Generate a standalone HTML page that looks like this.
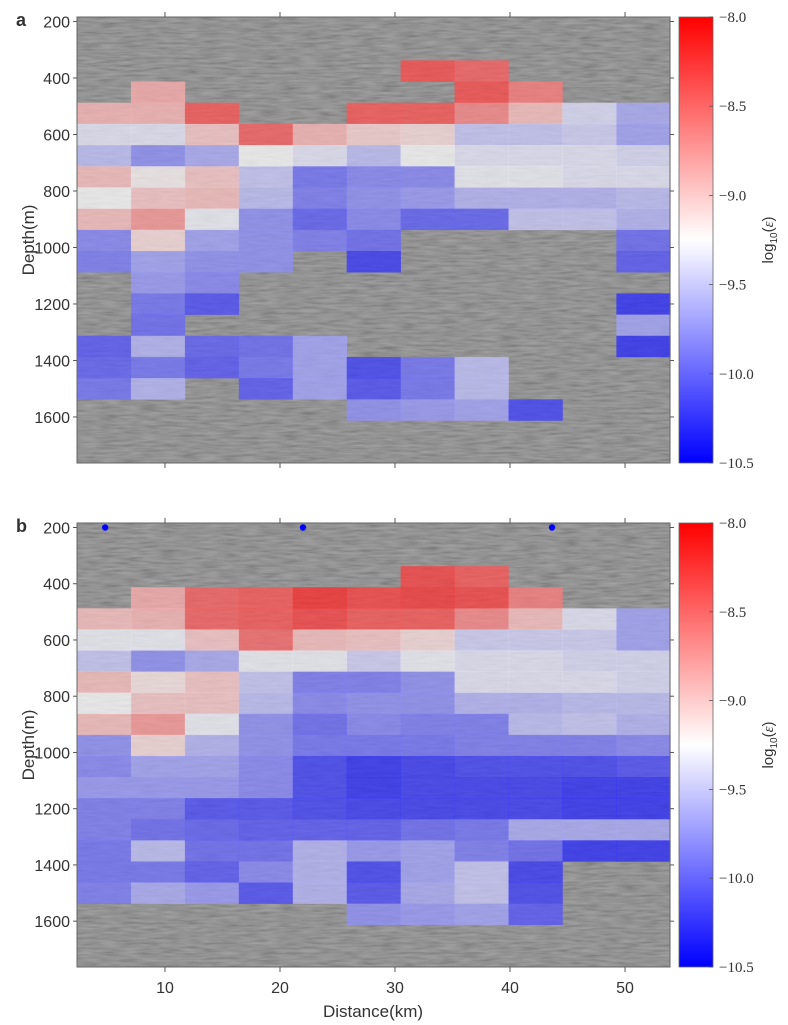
<!DOCTYPE html>
<html><head><meta charset="utf-8"><style>
html,body{margin:0;padding:0;background:#fff;width:788px;height:1025px;overflow:hidden}
svg{display:block}
text{font-family:"Liberation Sans",Arial,sans-serif;fill:#333}
.cb{font-family:"Liberation Serif",serif;font-size:15px;fill:#333}
</style></head><body>
<svg id="fig" width="788" height="1025" viewBox="0 0 788 1025" xmlns="http://www.w3.org/2000/svg">
<defs>
<filter id="seis" x="0" y="0" width="100%" height="100%">
<feTurbulence type="fractalNoise" baseFrequency="0.05 0.4" numOctaves="2" seed="4"/>
<feColorMatrix type="matrix" values="1 0 0 0 0  1 0 0 0 0  1 0 0 0 0  0 0 0 0 1"/>
</filter>
<linearGradient id="cmap" x1="0" y1="1" x2="0" y2="0">
<stop offset="0" stop-color="#0000ff"/><stop offset="0.5" stop-color="#ffffff"/><stop offset="1" stop-color="#ff0000"/>
</linearGradient>
</defs>
</svg>
<script>
// ---- data ----
const xTicks = [10, 20, 30, 40, 50];
const yTicks = [200, 400, 600, 800, 1000, 1200, 1400, 1600];
const cbTicks = [-8.0, -8.5, -9.0, -9.5, -10.0, -10.5];
const cbTickLabels = ["\u22128.0", "\u22128.5", "\u22129.0", "\u22129.5", "\u221210.0", "\u221210.5"];
const colStartKm = 2.35, colWidthKm = 4.69;
const rowStartM = 337.5, rowHeightM = 75;
const stationKm = [4.8, 22.0, 43.65];
const stationDepth = [200, 200, 200];
const N = null;
const gridA = [
[N,N,N,N,N,N,-8.35,-8.45,N,N,N],
[N,-8.85,N,N,N,N,N,-8.35,-8.6,N,N],
[-8.9,-8.9,-8.4,N,N,-8.4,-8.4,-8.65,-8.95,-9.4,-9.65],
[-9.35,-9.35,-9.0,-8.45,-8.9,-9.05,-9.1,-9.5,-9.5,-9.45,-9.7],
[-9.55,-9.8,-9.65,-9.25,-9.35,-9.55,-9.25,-9.35,-9.35,-9.35,-9.4],
[-8.95,-9.2,-9.0,-9.5,-9.95,-9.85,-9.85,-9.3,-9.3,-9.35,-9.35],
[-9.25,-9.0,-8.95,-9.55,-9.9,-9.8,-9.75,-9.6,-9.6,-9.6,-9.55],
[-8.95,-8.75,-9.3,-9.8,-10.05,-9.85,-10.05,-10.05,-9.5,-9.5,-9.6],
[-9.85,-9.1,-9.7,-9.8,-9.9,-10.0,N,N,N,N,-10.0],
[-9.9,-9.7,-9.8,-9.8,N,-10.25,N,N,N,N,-10.1],
[N,-9.75,-9.85,N,N,N,N,N,N,N,N],
[N,-9.95,-10.15,N,N,N,N,N,N,N,-10.3],
[N,-10.0,N,N,N,N,N,N,N,N,-9.7],
[-10.1,-9.6,-10.05,-10.0,-9.7,N,N,N,N,N,-10.3],
[-10.05,-9.95,-10.1,-9.95,-9.7,-10.2,-9.95,-9.55,N,N,N],
[-9.95,-9.6,N,-10.1,-9.7,-10.15,-9.95,-9.55,N,N,N],
[N,N,N,N,N,-9.8,-9.75,-9.7,-10.2,N,N]
];
const gridB = [
[N,N,N,N,N,N,-8.3,-8.4,N,N,N],
[N,-8.85,-8.45,-8.4,-8.2,-8.3,-8.25,-8.3,-8.6,N,N],
[-8.95,-8.9,-8.45,-8.4,-8.3,-8.4,-8.4,-8.65,-8.95,-9.35,-9.7],
[-9.3,-9.3,-9.0,-8.5,-8.95,-9.0,-9.1,-9.45,-9.45,-9.45,-9.7],
[-9.5,-9.8,-9.65,-9.3,-9.3,-9.45,-9.3,-9.35,-9.35,-9.4,-9.4],
[-8.95,-9.15,-9.0,-9.5,-9.9,-9.9,-9.8,-9.35,-9.35,-9.35,-9.4],
[-9.25,-9.0,-9.0,-9.55,-9.85,-9.8,-9.8,-9.6,-9.6,-9.55,-9.55],
[-8.95,-8.75,-9.3,-9.8,-10.0,-9.85,-9.9,-9.9,-9.55,-9.5,-9.6],
[-9.8,-9.1,-9.6,-9.8,-9.95,-9.95,-9.95,-9.9,-9.9,-9.9,-9.85],
[-9.85,-9.7,-9.7,-9.85,-10.2,-10.3,-10.25,-10.2,-10.2,-10.2,-10.15],
[-9.75,-9.75,-9.75,-9.85,-10.2,-10.3,-10.25,-10.25,-10.25,-10.3,-10.3],
[-9.9,-9.9,-10.15,-10.15,-10.2,-10.25,-10.25,-10.25,-10.25,-10.3,-10.3],
[-9.9,-10.0,-10.05,-10.1,-10.1,-10.1,-10.0,-9.95,-9.65,-9.65,-9.65],
[-9.95,-9.55,-10.0,-10.0,-9.6,-9.75,-9.7,-9.9,-10.0,-10.3,-10.3],
[-9.95,-9.95,-10.1,-9.85,-9.6,-10.2,-9.7,-9.5,-10.25,N,N],
[-9.9,-9.65,-9.75,-10.15,-9.6,-10.15,-9.65,-9.5,-10.2,N,N],
[N,N,N,N,N,-9.8,-9.75,-9.7,-10.1,N,N]
];

// ---- layout ----
const NS = "http://www.w3.org/2000/svg";
const svg = document.getElementById('fig');
const X0 = 77, X1 = 670, KM0 = 2.35, KM1 = 53.91;
const D0 = 184, D1 = 1763;
const xs = km => X0 + (km - KM0) / (KM1 - KM0) * (X1 - X0);
function mk(tag, attrs, parent) {
  const e = document.createElementNS(NS, tag);
  for (const k in attrs) e.setAttribute(k, attrs[k]);
  (parent || svg).appendChild(e);
  return e;
}
function cmap(v) {
  let t = (v - (-10.5)) / 2.5; t = Math.max(0, Math.min(1, t));
  let r, g, b;
  if (t < 0.5) { const u = t / 0.5; r = Math.round(255 * u); g = r; b = 255; }
  else { const u = (t - 0.5) / 0.5; r = 255; g = Math.round(255 * (1 - u)); b = g; }
  return `rgb(${r},${g},${b})`;
}
function panel(grid, Y0, Y1, label, id, showX, dots) {
  const ys = d => Y0 + (d - D0) / (D1 - D0) * (Y1 - Y0);
  const g = mk('g', {});
  
  
  const bg = mk('rect', {x: X0, y: Y0, width: X1 - X0, height: Y1 - Y0, fill: '#838383'}, g);
  
  
  const tex = mk('rect', {x: X0, y: Y0, width: X1 - X0, height: Y1 - Y0, filter: 'url(#seis)', opacity: 0.28}, g);
  
  
  grid.forEach((row, ri) => row.forEach((v, ci) => {
    if (v === null) return;
    const xa = xs(colStartKm + ci * colWidthKm), xb = xs(colStartKm + (ci + 1) * colWidthKm);
    const ya = ys(rowStartM + ri * rowHeightM), yb = ys(rowStartM + (ri + 1) * rowHeightM);
    const c = mk('rect', {x: xa.toFixed(2), y: ya.toFixed(2), width: (xb - xa + 0.3).toFixed(2), height: (yb - ya + 0.3).toFixed(2), fill: cmap(v), 'fill-opacity': 0.74}, g);
    
    
  }));
  const fr = mk('rect', {x: X0, y: Y0, width: X1 - X0, height: Y1 - Y0, fill: 'none', stroke: '#666', 'stroke-width': 1}, g);
  
  
  xTicks.forEach(t => {
    const x = xs(t);
    mk('line', {x1: x, x2: x, y1: Y0, y2: Y0 - 5, stroke: '#555'}, g);
    mk('line', {x1: x, x2: x, y1: Y1, y2: Y1 + 5, stroke: '#555'}, g);
    if (showX) {
      const tl = mk('text', {x: x, y: Y1 + 26, 'font-size': 16, 'text-anchor': 'middle'}, g);
      tl.textContent = t;
      
      
    }
  });
  yTicks.forEach(t => {
    const y = ys(t);
    mk('line', {x1: X0, x2: X0 - 4, y1: y, y2: y, stroke: '#555'}, g);
    mk('line', {x1: X1, x2: X1 + 4, y1: y, y2: y, stroke: '#555'}, g);
    const tl = mk('text', {x: X0 - 7, y: y + 6, 'font-size': 16, 'text-anchor': 'end'}, g);
    tl.textContent = t;
    
    
  });
  const yt = mk('text', {x: 0, y: 0, 'font-size': 17, 'text-anchor': 'middle', transform: `translate(34,${(Y0 + Y1) / 2}) rotate(-90)`}, g);
  yt.textContent = 'Depth(m)';
  
  
  const pl = mk('text', {x: 16, y: Y0 + 9, 'font-size': 18, 'font-weight': 'bold', fill: '#000'}, g);
  pl.textContent = label;
  
  
  if (dots) stationKm.forEach((k, i) => {
    const d = mk('circle', {cx: xs(k), cy: ys(stationDepth[i]), r: 3.2, fill: '#0000ff'}, g);
    
    
  });
  // colorbar
  const CX0 = 679, CX1 = 713;
  const cb = mk('rect', {x: CX0, y: Y0, width: CX1 - CX0, height: Y1 - Y0, fill: 'url(#cmap)', stroke: '#666', 'stroke-width': 0.8}, g);
  
  
  cbTicks.forEach((t, i) => {
    const y = Y0 + (t - (-8)) / (-2.5) * (Y1 - Y0);
    mk('line', {x1: CX1 - 4, x2: CX1, y1: y, y2: y, stroke: '#555', 'stroke-width': 0.8}, g);
    const tl = mk('text', {x: CX1 + 6, y: y + 5, class: 'cb'}, g);
    tl.textContent = cbTickLabels[i];
    
    
  });
  const ct = mk('text', {x: 0, y: 0, 'font-size': 15, 'text-anchor': 'middle', transform: `translate(773,${(Y0 + Y1) / 2}) rotate(-90)`}, g);
  ct.innerHTML = 'log<tspan font-size="10" dy="4">10</tspan><tspan dy="-4">(</tspan><tspan font-family="Liberation Serif" font-style="italic">ε</tspan>)';
  
  
}
panel(gridA, 17, 463, 'a', 'a', false, false);
panel(gridB, 523, 967, 'b', 'b', true, true);
const xt = mk('text', {x: 373, y: 1017, 'font-size': 17, 'text-anchor': 'middle'});
xt.textContent = 'Distance(km)';


</script>
</body></html>
